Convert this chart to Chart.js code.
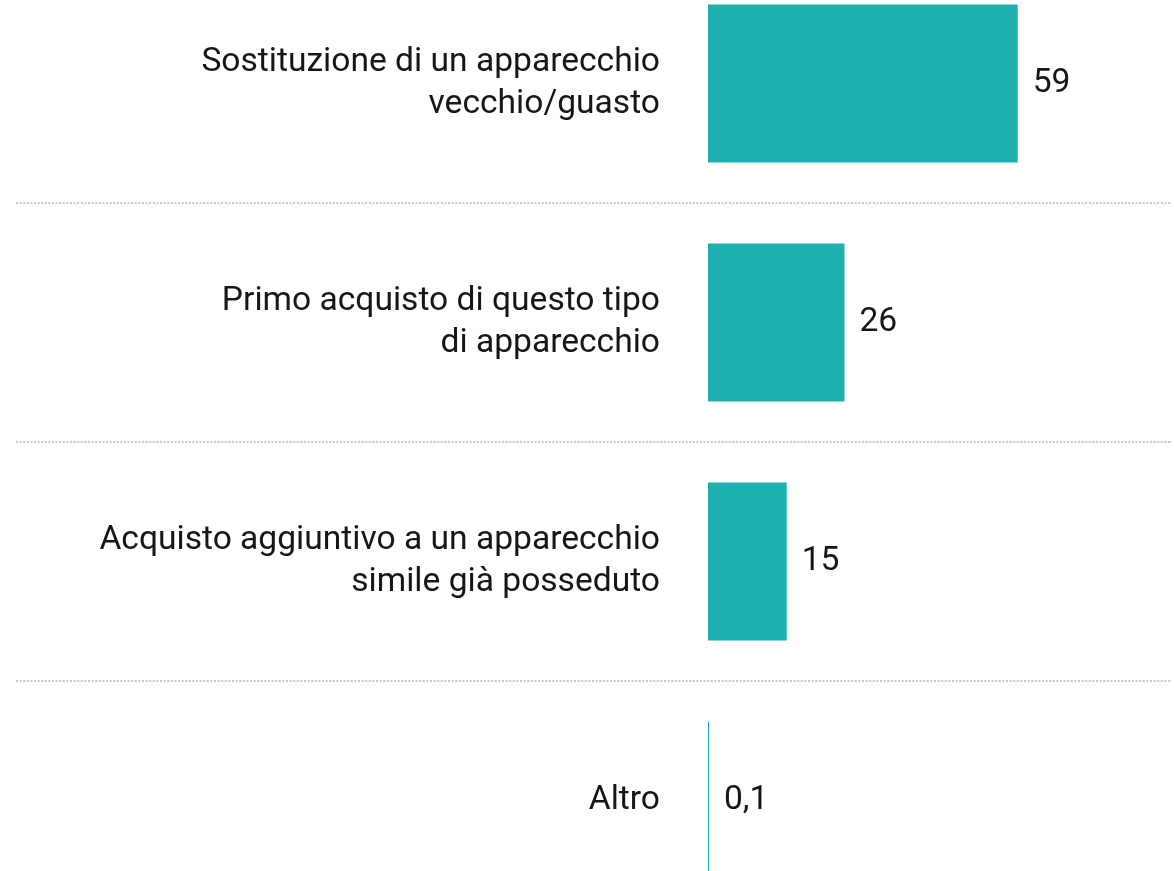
<!DOCTYPE html>
<html>
<head>
<meta charset="utf-8">
<script src="https://cdn.jsdelivr.net/npm/chart.js@4"></script>
<style>
  html, body { margin: 0; padding: 0; background: #fff; overflow: hidden; width: 1174px; height: 871px; position: relative; }
  #chart { position: absolute; left: 0; top: -36px; }
</style>
</head>
<body>
<canvas id="chart" width="1174" height="956"></canvas>
<script>
// data
const categories = [
    ['Sostituzione di un apparecchio', 'vecchio/guasto'],
    ['Primo acquisto di questo tipo', 'di apparecchio'],
    ['Acquisto aggiuntivo a un apparecchio', 'simile già posseduto'],
    'Altro'
];
const values = [59, 26, 15, 0.1];

const barColor = '#1eafaf';
const textColor = '#161616';
const fontFamily = 'Roboto, "Noto Sans", sans-serif';
const fontSize = 33.6;

// dotted separators between the rows
const separators = {
    id: 'separators',
    beforeDatasetsDraw(chart) {
        const ctx = chart.ctx;
        const y = chart.scales.y;
        ctx.save();
        ctx.strokeStyle = '#c8c8c8';
        ctx.lineWidth = 2;
        ctx.setLineDash([2, 1.6]);
        for (let i = 0; i < categories.length - 1; i++) {
            const py = Math.round((y.getPixelForTick(i) + y.getPixelForTick(i + 1)) / 2);
            ctx.beginPath();
            ctx.moveTo(16, py);
            ctx.lineTo(chart.width - 2, py);
            ctx.stroke();
        }
        ctx.restore();
    }
};

// value labels at the end of each bar
const valueLabels = {
    id: 'valueLabels',
    afterDatasetsDraw(chart) {
        const ctx = chart.ctx;
        const meta = chart.getDatasetMeta(0);
        ctx.save();
        ctx.font = fontSize + 'px ' + fontFamily;
        ctx.fillStyle = textColor;
        ctx.textAlign = 'left';
        ctx.textBaseline = 'middle';
        meta.data.forEach(function(bar, i) {
            const txt = String(values[i]).replace('.', ',');
            ctx.fillText(txt, bar.x + 15, bar.y);
        });
        ctx.restore();
    }
};

const ctx = document.getElementById('chart').getContext('2d');
const chart = new Chart(ctx, {
    type: 'bar',
    data: {
        labels: categories,
        datasets: [{
            data: values,
            backgroundColor: barColor,
            borderWidth: 0,
            barPercentage: 0.661,
            categoryPercentage: 1,
            minBarLength: 1
        }]
    },
    options: {
        indexAxis: 'y',
        responsive: false,
        animation: false,
        layout: { padding: { left: 0, right: 46, top: 0, bottom: 0 } },
        scales: {
            x: {
                display: false,
                min: 0,
                max: 80
            },
            y: {
                afterFit: function(scale) {
                    scale.width = 708;
                    scale.paddingTop = 0;
                    scale.paddingBottom = 0;
                },
                grid: { display: false, drawTicks: false },
                border: { display: false },
                ticks: {
                    padding: 48,
                    color: textColor,
                    font: { family: fontFamily, size: fontSize, lineHeight: 1.23 }
                }
            }
        },
        plugins: {
            legend: { display: false },
            tooltip: { enabled: false }
        }
    },
    plugins: [separators, valueLabels]
});
</script>
</body>
</html>
